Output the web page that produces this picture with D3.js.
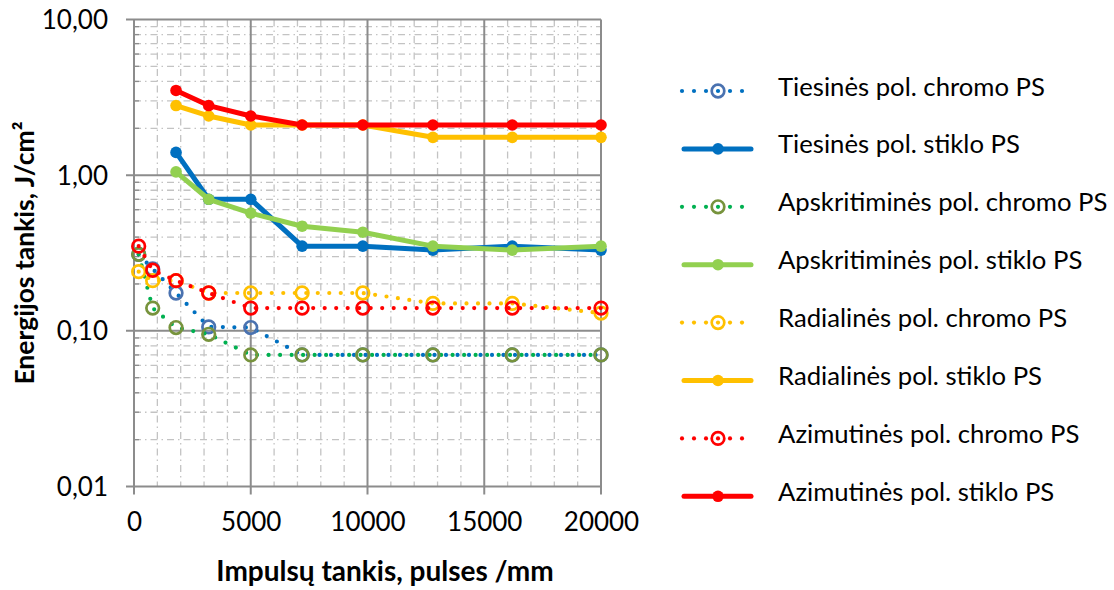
<!DOCTYPE html>
<html><head><meta charset="utf-8">
<script src="https://cdn.jsdelivr.net/npm/d3@7"></script>
<style>
body{margin:0;background:#fff;}
svg{display:block;}
text{font-family:Lato,"Open Sans",sans-serif;fill:#000;}
</style></head><body>
<svg id="chart" width="1114" height="590"></svg>
<script>
// ---- data ----
const xChromo = [200, 800, 1800, 3200, 5000, 7200, 9800, 12800, 16200, 20000];
const xStiklo = [1800, 3200, 5000, 7200, 9800, 12800, 16200, 20000];

const tiesinesChromo      = [0.31, 0.25, 0.175, 0.106, 0.105, 0.07, 0.07, 0.07, 0.07, 0.07];
const tiesinesStiklo      = [1.4, 0.70, 0.70, 0.35, 0.35, 0.33, 0.35, 0.33];
const apskritiminesChromo = [0.31, 0.14, 0.105, 0.095, 0.07, 0.07, 0.07, 0.07, 0.07, 0.07];
const apskritiminesStiklo = [1.05, 0.70, 0.57, 0.47, 0.43, 0.35, 0.33, 0.35];
const radialinesChromo    = [0.24, 0.21, 0.21, 0.175, 0.175, 0.175, 0.175, 0.15, 0.15, 0.13];
const radialinesStiklo    = [2.8, 2.4, 2.1, 2.1, 2.1, 1.75, 1.75, 1.75];
const azimutinesChromo    = [0.35, 0.245, 0.21, 0.175, 0.14, 0.14, 0.14, 0.14, 0.14, 0.14];
const azimutinesStiklo    = [3.5, 2.8, 2.4, 2.1, 2.1, 2.1, 2.1, 2.1];

const seriesNames = [
  "Tiesinės pol. chromo PS", "Tiesinės pol. stiklo PS",
  "Apskritiminės pol. chromo PS", "Apskritiminės pol. stiklo PS",
  "Radialinės pol. chromo PS", "Radialinės pol. stiklo PS",
  "Azimutinės pol. chromo PS", "Azimutinės pol. stiklo PS"
];
const yTicks = [0.01, 0.1, 1, 10];
const yTickLabels = ["0,01", "0,10", "1,00", "10,00"];
const xTicks = [0, 5000, 10000, 15000, 20000];
const xTitle = "Impulsų tankis, pulses /mm";
const yTitle = "Energijos tankis, J/cm²";

// ---- styles ----
const styles = [
  {type:"chromo", line:"#0070C0", ring:"#4A72B0"},
  {type:"stiklo", line:"#0070C0"},
  {type:"chromo", line:"#00B050", ring:"#77933C"},
  {type:"stiklo", line:"#92D050"},
  {type:"chromo", line:"#FFC000", ring:"#FFC000"},
  {type:"stiklo", line:"#FFC000"},
  {type:"chromo", line:"#FF0000", ring:"#FF0000"},
  {type:"stiklo", line:"#FF0000"}
];
const valueSets = [tiesinesChromo, tiesinesStiklo, apskritiminesChromo, apskritiminesStiklo,
                   radialinesChromo, radialinesStiklo, azimutinesChromo, azimutinesStiklo];

const series = seriesNames.map((name, i) => {
  const xs = styles[i].type === "chromo" ? xChromo : xStiklo;
  return {name, ...styles[i], points: valueSets[i].map((v, j) => ({x: xs[j], y: v}))};
});

// ---- layout ----
const svg = d3.select("#chart");
const pL = 134, pR = 601, pT = 19.5, pB = 486.5;
const x = d3.scaleLinear().domain([0, 20000]).range([pL, pR]);
const y = d3.scaleLog().domain([0.01, 10]).range([pB, pT]);

const gridMinor = "#c3c3c3", axisCol = "#8c8c8c";
const dash = "7,4,1.5,4";

const grid = svg.append("g");
// minor vertical
d3.range(1000, 20001, 1000).filter(v => v % 5000 !== 0).forEach(v => {
  grid.append("line").attr("x1", x(v)).attr("x2", x(v)).attr("y1", pT).attr("y2", pB)
    .attr("stroke", gridMinor).attr("stroke-width", 1.3).attr("stroke-dasharray", dash);
});
// minor horizontal
const minorY = [];
[0.01, 0.1, 1].forEach(d => { for (let k = 2; k <= 9; k++) minorY.push(d * k); });
minorY.forEach(v => {
  grid.append("line").attr("x1", pL).attr("x2", pR).attr("y1", y(v)).attr("y2", y(v))
    .attr("stroke", gridMinor).attr("stroke-width", 1.3).attr("stroke-dasharray", dash);
  grid.append("line").attr("x1", pL).attr("x2", pL + 5).attr("y1", y(v)).attr("y2", y(v))
    .attr("stroke", axisCol).attr("stroke-width", 1.3);
});
// major horizontal
yTicks.forEach(v => {
  grid.append("line").attr("x1", pL - 8).attr("x2", pR).attr("y1", y(v)).attr("y2", y(v))
    .attr("stroke", axisCol).attr("stroke-width", 2);
});
// major vertical
xTicks.forEach(v => {
  grid.append("line").attr("x1", x(v)).attr("x2", x(v)).attr("y1", pT).attr("y2", pB + 8)
    .attr("stroke", axisCol).attr("stroke-width", 2);
});

// axis tick labels via d3 axes
const yAxis = d3.axisLeft(y).tickValues(yTicks).tickFormat((d, i) => yTickLabels[i]).tickSize(0).tickPadding(26);
const gy = svg.append("g").attr("transform", `translate(${pL},0)`).call(yAxis);
gy.select(".domain").remove();
gy.selectAll("text").attr("font-size", 26).attr("font-family", "Lato").attr("fill", "#000").attr("dy", "0.35em");

const xAxis = d3.axisBottom(x).tickValues(xTicks).tickFormat(d3.format("d")).tickSize(0).tickPadding(0);
const gx = svg.append("g").attr("transform", `translate(0,${pB})`).call(xAxis);
gx.select(".domain").remove();
gx.selectAll("text").attr("font-size", 26).attr("font-family", "Lato").attr("fill", "#000")
  .attr("y", 35).attr("dy", "0.35em");

// titles
svg.append("text").attr("x", 385).attr("y", 581).attr("text-anchor", "middle")
  .attr("font-size", 28).attr("font-weight", "bold").text(xTitle);
svg.append("text").attr("transform", `translate(33.5,${(pT + pB) / 2}) rotate(-90)`)
  .attr("text-anchor", "middle").attr("font-size", 26.5).attr("font-weight", "bold").text(yTitle);

// ---- series ----
const lineGen = d3.line().x(d => x(d.x)).y(d => y(d.y));
const plot = svg.append("g");
series.forEach(s => {
  const g = plot.append("g");
  if (s.type === "chromo") {
    g.append("path").attr("d", lineGen(s.points)).attr("fill", "none").attr("stroke", s.line)
      .attr("stroke-width", 4.2).attr("stroke-linecap", "round").attr("stroke-dasharray", "0,11.5");
    g.selectAll("circle").data(s.points).join("circle")
      .attr("cx", d => x(d.x)).attr("cy", d => y(d.y)).attr("r", 6.3)
      .attr("fill", "none").attr("stroke", s.ring).attr("stroke-width", 2.7);
  } else {
    g.append("path").attr("d", lineGen(s.points)).attr("fill", "none").attr("stroke", s.line)
      .attr("stroke-width", 5).attr("stroke-linejoin", "round").attr("stroke-linecap", "round");
    g.selectAll("circle").data(s.points).join("circle")
      .attr("cx", d => x(d.x)).attr("cy", d => y(d.y)).attr("r", 5.8).attr("fill", s.line);
  }
});

// ---- legend ----
const leg = svg.append("g");
series.forEach((s, i) => {
  const cy = 91 + i * 57.9;
  const g = leg.append("g").attr("transform", `translate(0,${cy})`);
  if (s.type === "chromo") {
    [682, 694, 706, 718, 730, 742].forEach(px => g.append("circle").attr("cx", px).attr("cy", 0).attr("r", 2.1).attr("fill", s.line));
    g.append("circle").attr("cx", 718).attr("cy", 0).attr("r", 6.3).attr("fill", "none")
      .attr("stroke", s.ring).attr("stroke-width", 2.7);
  } else {
    g.append("line").attr("x1", 684).attr("x2", 751).attr("y1", 0).attr("y2", 0)
      .attr("stroke", s.line).attr("stroke-width", 5).attr("stroke-linecap", "round");
    g.append("circle").attr("cx", 718).attr("cy", 0).attr("r", 5.8).attr("fill", s.line);
  }
  g.append("text").attr("x", 778).attr("y", 0).attr("dy", 4.5).attr("font-size", 25.7).text(s.name);
});
</script></body></html>
